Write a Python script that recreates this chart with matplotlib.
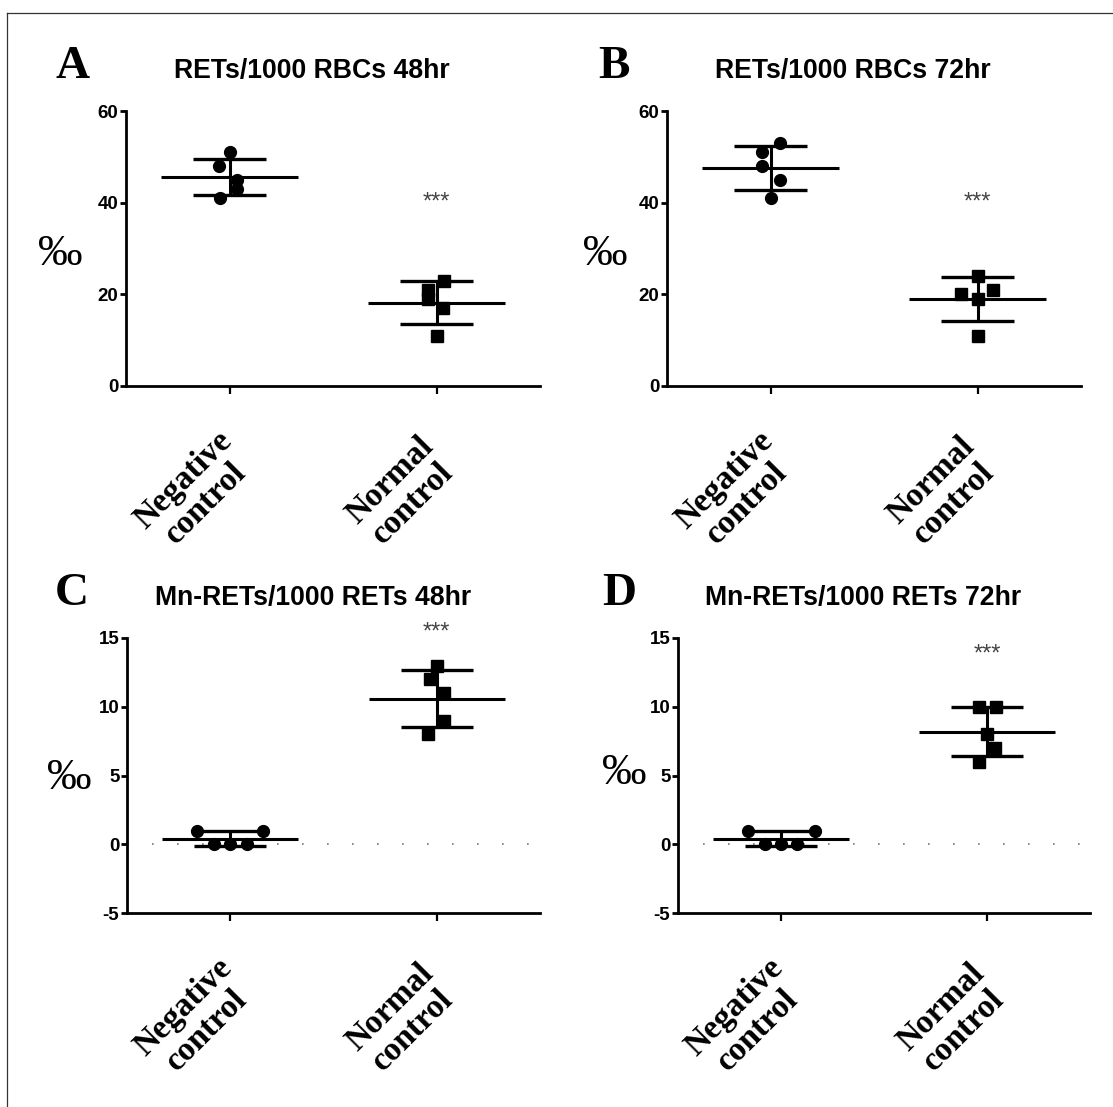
import numpy as np
import matplotlib.pyplot as plt
from matplotlib.transforms import blended_transform_factory

plt.rcParams['font.family'] = ['Liberation Sans', 'DejaVu Sans']
plt.rcParams['axes.unicode_minus'] = False

# values (per mille)
categories = ["Negative\ncontrol", "Normal\ncontrol"]
titles = ["RETs/1000 RBCs 48hr", "RETs/1000 RBCs 72hr",
          "Mn-RETs/1000 RETs 48hr", "Mn-RETs/1000 RETs 72hr"]
letters = ["A", "B", "C", "D"]

neg_rbc_48 = [51, 48, 45, 43, 41]
norm_rbc_48 = [23, 21, 19, 17, 11]
neg_rbc_72 = [53, 51, 48, 45, 41]
norm_rbc_72 = [24, 21, 20, 19, 11]
neg_mn_48 = [1, 1, 0, 0, 0]
norm_mn_48 = [13, 12, 11, 9, 8]
neg_mn_72 = [1, 1, 0, 0, 0]
norm_mn_72 = [10, 10, 8, 7, 6]

yticks_rbc = [0, 20, 40, 60]
yticks_mn = [-5, 0, 5, 10, 15]
star_y = [40, 40, 15.4, 13.8]

# horizontal scatter of the points (category units), as in the figure
jit_neg = [[0, -0.05, 0.035, 0.035, -0.045], [0.045, -0.04, -0.04, 0.045, 0],
           [-0.16, 0.16, -0.08, 0, 0.08], [-0.16, 0.165, -0.08, 0, 0.08]]
jit_norm = [[0.035, -0.04, -0.04, 0.03, 0], [0, 0.075, -0.08, 0, 0],
            [0, -0.035, 0.035, 0.035, -0.04], [-0.04, 0.045, 0, 0.04, -0.04]]

W, H = 1113, 1107
fig = plt.figure(figsize=(W / 100, H / 100), dpi=100)

# axes boxes in pixels: left, right, top, bottom
boxes = [(126, 540, 111, 386), (667, 1081, 111, 386),
         (127, 540, 638, 913), (678, 1090, 638, 913)]
letter_x = [55, 598, 55, 602]
permille_pos = [(-0.16, 0.48), (-0.15, 0.48), (-0.14, 0.49), (-0.13, 0.51)]

data = [(neg_rbc_48, norm_rbc_48), (neg_rbc_72, norm_rbc_72),
        (neg_mn_48, norm_mn_48), (neg_mn_72, norm_mn_72)]

for i, (l, r, t, b) in enumerate(boxes):
    ax = fig.add_axes([l / W, 1 - b / H, (r - l) / W, (b - t) / H])
    yt = yticks_rbc if i < 2 else yticks_mn
    ax.set_ylim(yt[0], yt[-1])
    ax.set_xlim(-0.5, 1.5)
    ax.set_yticks(yt)
    ax.set_xticks([0, 1])
    ax.set_xticklabels([])
    for s in ["top", "right"]:
        ax.spines[s].set_visible(False)
    for s in ["left", "bottom"]:
        ax.spines[s].set_linewidth(2)
        ax.spines[s].set_capstyle("projecting")
    ax.tick_params(axis="y", length=4.5, width=2, labelsize=13.5, pad=1)
    ax.tick_params(axis="x", length=6, width=1.6)
    for lab in ax.get_yticklabels():
        lab.set_fontweight("bold")

    if i >= 2:
        ax.axhline(0, color="#777777", lw=1.2, ls=(0, (1, 14)), zorder=1)

    for k, (vals, jit) in enumerate(zip(data[i], [jit_neg[i], jit_norm[i]])):
        vals = np.array(vals, dtype=float)
        m = vals.mean()
        sd = vals.std(ddof=1)
        ax.hlines(m, k - 0.33, k + 0.33, color="black", lw=2.2, zorder=3)
        ax.hlines([m - sd, m + sd], k - 0.175, k + 0.175, color="black", lw=2.4, zorder=3)
        ax.vlines(k, m - sd, m + sd, color="black", lw=2.2, zorder=3)
        ax.plot(k + np.array(jit), vals, ls="none",
                marker="o" if k == 0 else "s", ms=8.5, color="black",
                zorder=4, clip_on=False)

    ax.text(1, star_y[i], "***", ha="center", va="center", fontsize=17,
            color="#444444", clip_on=False)

    ax.text(0.45, 1.12, titles[i], transform=ax.transAxes, ha="center",
            va="baseline", fontsize=19.2, fontweight="bold")

    px, py = permille_pos[i]
    ax.text(px, py, "\u2030", transform=ax.transAxes, ha="center", va="center",
            fontsize=32, family=["Liberation Serif", "DejaVu Serif"])

    tr = blended_transform_factory(ax.transData, ax.transAxes)
    for k, cat in enumerate(categories):
        ax.text(k - 0.17, -0.385, cat, transform=tr, rotation=45,
                ha="center", va="center", multialignment="center",
                fontsize=24, fontweight="bold", linespacing=1.05,
                family=["Liberation Serif", "DejaVu Serif"])

    fig.text(letter_x[i] / W, 1 - (t - 33) / H, letters[i], ha="left",
             va="baseline", fontsize=34, fontweight="bold",
             family=["Liberation Serif", "DejaVu Serif"])

# thin frame on top and left edge
fig.add_artist(plt.Line2D([7 / W, 1.0], [1 - 13 / H, 1 - 13 / H],
                          transform=fig.transFigure, color="#333333", lw=0.9))
fig.add_artist(plt.Line2D([7 / W, 7 / W], [0.0, 1 - 13 / H],
                          transform=fig.transFigure, color="#333333", lw=0.9))

fig.savefig("out.png", dpi=100, facecolor="white")
